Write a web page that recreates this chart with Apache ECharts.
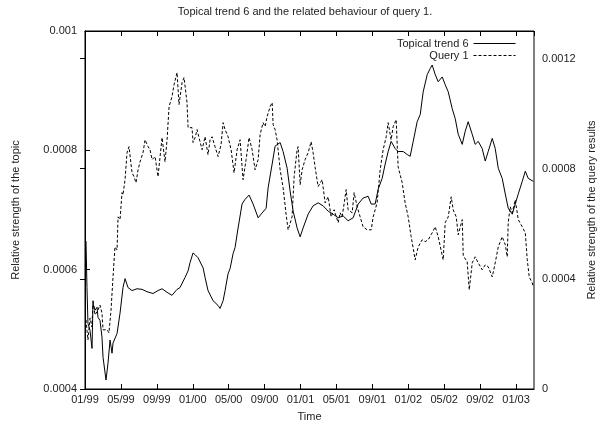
<!DOCTYPE html>
<html>
<head>
<meta charset="utf-8">
<script src="https://cdn.jsdelivr.net/npm/echarts@6/dist/echarts.min.js"></script>
<style>
  html, body { margin: 0; padding: 0; background: #fff; }
  #chart { width: 610px; height: 427px; }
</style>
</head>
<body>
<div id="chart"></div>
<script>
// months counted from 01/99
const tickLabels = ['01/99', '05/99', '09/99', '01/00', '05/00', '09/00', '01/01',
  '05/01', '09/01', '01/02', '05/02', '09/02', '01/03'];

const trendMonths = [0.11, 0.22, 0.33, 0.56, 0.78, 0.89, 1.11, 1.34, 1.45, 1.67, 1.89, 2.01, 2.34, 2.56,
  2.79, 3.01, 3.12, 3.57, 3.90, 4.23, 4.46, 4.79, 5.24, 5.79, 6.35, 6.91, 7.58, 7.80, 8.13, 8.58, 9.14,
  9.69, 10.25, 10.58, 11.14, 11.48, 11.70, 12.03, 12.26, 12.59, 13.15, 13.37, 13.70, 14.26, 14.82, 15.04,
  15.15, 15.38, 15.60, 15.93, 16.16, 16.49, 16.71, 17.05, 17.49, 17.83, 18.27, 18.72, 19.28, 19.72, 20.17,
  20.39, 20.84, 21.17, 21.39, 21.73, 22.06, 22.51, 22.84, 23.18, 23.62, 23.96, 24.29, 24.85, 25.40, 25.96,
  26.52, 27.08, 27.63, 28.19, 28.75, 29.30, 29.86, 30.42, 30.97, 31.53, 31.87, 32.31, 32.65, 33.09, 33.43,
  33.76, 34.09, 34.54, 34.87, 35.43, 35.88, 36.21, 36.55, 36.99, 37.33, 37.66, 38.11, 38.44, 38.66, 39.00,
  39.33, 39.78, 40.11, 40.45, 40.89, 41.23, 41.56, 42.01, 42.34, 42.67, 43.12, 43.45, 43.79, 44.23, 44.57,
  44.90, 45.35, 45.68, 46.02, 46.46, 46.80, 47.13, 47.58, 47.91, 48.25, 48.69, 49.03, 49.36, 49.92];
const trendValues = [6.48e-4, 5.70e-4, 5.10e-4, 4.98e-4, 4.68e-4, 5.43e-4, 5.32e-4, 5.37e-4, 5.20e-4,
  5.15e-4, 4.87e-4, 4.53e-4, 4.15e-4, 4.43e-4, 4.82e-4, 4.60e-4, 4.77e-4, 4.93e-4, 5.27e-4, 5.70e-4,
  5.85e-4, 5.70e-4, 5.65e-4, 5.68e-4, 5.67e-4, 5.63e-4, 5.60e-4, 5.57e-4, 5.65e-4, 5.68e-4, 5.62e-4,
  5.57e-4, 5.67e-4, 5.70e-4, 5.87e-4, 5.98e-4, 6.12e-4, 6.28e-4, 6.25e-4, 6.20e-4, 6.03e-4, 5.87e-4,
  5.65e-4, 5.48e-4, 5.40e-4, 5.35e-4, 5.33e-4, 5.48e-4, 5.65e-4, 5.93e-4, 6.02e-4, 6.27e-4, 6.37e-4,
  6.70e-4, 7.10e-4, 7.18e-4, 7.25e-4, 7.10e-4, 6.87e-4, 6.95e-4, 7.03e-4, 7.37e-4, 7.77e-4, 8.07e-4,
  8.10e-4, 8.13e-4, 7.98e-4, 7.70e-4, 7.32e-4, 6.98e-4, 6.70e-4, 6.55e-4, 6.70e-4, 6.93e-4, 7.07e-4,
  7.12e-4, 7.07e-4, 6.98e-4, 6.93e-4, 6.87e-4, 6.90e-4, 6.82e-4, 6.87e-4, 7.10e-4, 7.20e-4, 7.23e-4,
  7.10e-4, 7.10e-4, 7.35e-4, 7.53e-4, 7.77e-4, 7.98e-4, 8.15e-4, 8.03e-4, 7.98e-4, 7.98e-4, 7.93e-4,
  7.90e-4, 8.15e-4, 8.48e-4, 8.60e-4, 8.98e-4, 9.27e-4, 9.37e-4, 9.43e-4, 9.27e-4, 9.15e-4, 9.23e-4,
  9.10e-4, 8.98e-4, 8.70e-4, 8.53e-4, 8.27e-4, 8.10e-4, 8.32e-4, 8.48e-4, 8.27e-4, 8.10e-4, 8.15e-4,
  8.03e-4, 7.82e-4, 7.98e-4, 8.20e-4, 8.03e-4, 7.70e-4, 7.53e-4, 7.27e-4, 7.03e-4, 6.93e-4, 7.10e-4,
  7.27e-4, 7.48e-4, 7.65e-4, 7.53e-4, 7.48e-4];

const queryMonths = [0.11, 0.33, 0.56, 0.78, 0.89, 1.11, 1.45, 1.67, 1.89, 2.01, 2.45, 2.67, 2.90, 3.12,
  3.34, 3.57, 3.68, 3.90, 4.12, 4.23, 4.46, 4.68, 4.90, 5.24, 5.46, 5.68, 5.91, 6.13, 6.46, 6.69, 6.91,
  7.02, 7.24, 7.47, 7.80, 8.13, 8.58, 8.91, 9.14, 9.36, 9.69, 9.92, 10.25, 10.47, 10.58, 10.81, 11.03,
  11.14, 11.36, 11.48, 11.92, 12.03, 12.26, 12.48, 12.81, 13.04, 13.37, 13.70, 13.93, 14.15, 14.48, 14.82,
  15.15, 15.38, 15.60, 15.93, 16.27, 16.60, 16.94, 17.27, 17.60, 17.94, 18.27, 18.61, 18.94, 19.28, 19.50,
  19.83, 20.06, 20.28, 20.61, 20.84, 20.95, 21.17, 21.39, 21.73, 22.06, 22.40, 22.62, 22.84, 23.06, 23.29,
  23.62, 23.73, 23.96, 24.18, 24.51, 24.85, 25.18, 25.40, 25.63, 25.96, 26.18, 26.41, 26.74, 27.08, 27.41,
  27.74, 28.19, 28.41, 28.64, 29.08, 29.30, 29.75, 29.97, 30.31, 30.64, 30.97, 31.42, 31.87, 32.09, 32.53,
  32.87, 33.20, 33.54, 33.76, 34.09, 34.32, 34.65, 34.87, 35.32, 35.65, 35.99, 36.32, 36.77, 37.10, 37.55,
  37.88, 38.22, 38.66, 39.00, 39.33, 39.89, 40.11, 40.45, 40.78, 41.00, 41.34, 41.56, 42.01, 42.12, 42.56,
  42.79, 43.12, 43.45, 43.79, 44.23, 44.57, 44.90, 45.35, 45.68, 46.02, 46.46, 46.80, 47.02, 47.13, 47.35,
  47.58, 47.91, 48.25, 48.69, 49.03, 49.25, 49.47, 49.81, 49.92];
const queryValues = [2.51e-4, 1.78e-4, 2.58e-4, 2.25e-4, 3.24e-4, 2.69e-4, 2.87e-4, 3.05e-4, 2.76e-4,
  2.15e-4, 2.15e-4, 2.04e-4, 2.87e-4, 4.07e-4, 5.16e-4, 5.05e-4, 6.25e-4, 6.15e-4, 7.13e-4, 7.05e-4,
  7.60e-4, 8.58e-4, 8.80e-4, 7.85e-4, 7.71e-4, 7.49e-4, 7.96e-4, 8.25e-4, 8.58e-4, 9.05e-4, 9.05e-4,
  8.80e-4, 8.69e-4, 8.33e-4, 8.44e-4, 7.71e-4, 9.13e-4, 8.25e-4, 9.05e-4, 10.25e-4, 10.62e-4, 11.05e-4,
  11.49e-4, 10.33e-4, 10.40e-4, 11.13e-4, 11.31e-4, 11.24e-4, 10.40e-4, 9.49e-4, 9.49e-4, 8.95e-4,
  9.13e-4, 9.42e-4, 8.98e-4, 8.69e-4, 9.16e-4, 8.51e-4, 9.05e-4, 9.16e-4, 8.80e-4, 8.44e-4, 8.87e-4,
  9.67e-4, 9.42e-4, 9.16e-4, 8.69e-4, 7.85e-4, 8.69e-4, 9.05e-4, 7.60e-4, 8.33e-4, 9.13e-4, 8.69e-4,
  7.96e-4, 8.33e-4, 9.24e-4, 9.67e-4, 9.53e-4, 9.89e-4, 10.25e-4, 10.40e-4, 9.60e-4, 9.42e-4, 9.05e-4,
  7.96e-4, 7.31e-4, 6.33e-4, 5.78e-4, 5.85e-4, 6.25e-4, 7.71e-4, 8.69e-4, 8.80e-4, 7.42e-4, 7.96e-4,
  8.33e-4, 8.58e-4, 8.98e-4, 8.58e-4, 8.04e-4, 7.35e-4, 7.42e-4, 7.60e-4, 6.76e-4, 6.98e-4, 6.25e-4,
  6.51e-4, 6.04e-4, 6.40e-4, 6.25e-4, 7.24e-4, 6.51e-4, 6.40e-4, 7.13e-4, 6.62e-4, 6.25e-4, 5.89e-4,
  5.78e-4, 5.78e-4, 6.25e-4, 6.76e-4, 7.96e-4, 8.69e-4, 9.16e-4, 9.67e-4, 9.05e-4, 9.53e-4, 9.78e-4,
  8.07e-4, 7.49e-4, 6.76e-4, 6.25e-4, 5.53e-4, 4.69e-4, 5.16e-4, 5.42e-4, 5.35e-4, 5.42e-4, 5.67e-4,
  5.89e-4, 5.53e-4, 4.69e-4, 6.04e-4, 6.25e-4, 6.98e-4, 6.51e-4, 6.25e-4, 5.60e-4, 6.15e-4, 4.84e-4,
  4.62e-4, 3.60e-4, 4.58e-4, 4.80e-4, 4.58e-4, 4.33e-4, 4.51e-4, 4.44e-4, 4.07e-4, 4.58e-4, 5.16e-4,
  5.53e-4, 5.24e-4, 4.80e-4, 6.04e-4, 6.62e-4, 6.40e-4, 6.87e-4, 6.15e-4, 5.89e-4, 5.67e-4, 4.69e-4,
  4.07e-4, 3.85e-4, 3.71e-4];

const trendData = trendMonths.map((m, i) => [m, trendValues[i]]);
const queryData = queryMonths.map((m, i) => [m, queryValues[i]]);

const font = '"Liberation Sans", Arial, sans-serif';
const textColor = '#222';

const myChart = echarts.init(document.getElementById('chart'), null, {renderer: 'canvas'});

const option = {
    animation: false,
    backgroundColor: '#fff',
    color: ['#000', '#000'],
    textStyle: {fontFamily: font, color: textColor},
    title: {
        text: 'Topical trend 6 and the related behaviour of query 1.',
        left: 'center',
        top: 1,
        textStyle: {fontSize: 11, fontWeight: 'normal', color: textColor, fontFamily: font}
    },
    legend: {
        orient: 'vertical',
        right: 89,
        top: 33,
        align: 'right',
        itemWidth: 42,
        itemHeight: 10,
        itemGap: 1,
        itemStyle: {opacity: 0},
        lineStyle: {width: 1},
        textStyle: {fontSize: 11, color: textColor, fontFamily: font},
        data: ['Topical trend 6', 'Query 1']
    },
    grid: {
        left: 85,
        right: 76,
        top: 31,
        bottom: 38,
        show: true,
        borderColor: '#000',
        borderWidth: 1
    },
    xAxis: [
        {
            type: 'value',
            min: 0,
            max: 50,
            interval: 4,
            name: 'Time',
            nameLocation: 'middle',
            nameGap: 22,
            nameTextStyle: {fontSize: 11, color: textColor},
            axisLine: {lineStyle: {color: '#000'}},
            axisTick: {inside: true, length: 5, lineStyle: {color: '#000'}},
            splitLine: {show: false},
            axisLabel: {
                fontSize: 11,
                color: textColor,
                margin: 5,
                showMaxLabel: false,
                formatter: v => tickLabels[v / 4] || ''
            }
        },
        {
            type: 'value',
            position: 'top',
            min: 0,
            max: 50,
            interval: 4,
            axisLine: {lineStyle: {color: '#000'}},
            axisTick: {inside: true, length: 5, lineStyle: {color: '#000'}},
            axisLabel: {show: false},
            splitLine: {show: false}
        }
    ],
    yAxis: [
        {
            type: 'value',
            min: 0.0004,
            max: 0.001,
            interval: 0.0002,
            name: 'Relative strength of the topic',
            nameLocation: 'middle',
            nameRotate: 90,
            nameGap: 64,
            nameTextStyle: {fontSize: 11, color: textColor},
            axisLine: {show: true, lineStyle: {color: '#000'}},
            axisTick: {inside: true, length: 5, lineStyle: {color: '#000'}},
            splitLine: {show: false},
            axisLabel: {fontSize: 11, color: textColor, margin: 8, formatter: v => String(+v.toFixed(6))}
        },
        {
            type: 'value',
            position: 'right',
            min: 0,
            max: 0.0013,
            interval: 0.0004,
            name: 'Relative strength of the query results',
            nameLocation: 'middle',
            nameRotate: 90,
            nameGap: 52,
            nameTextStyle: {fontSize: 11, color: textColor},
            axisLine: {show: true, lineStyle: {color: '#000'}},
            axisTick: {inside: true, length: 5, lineStyle: {color: '#000'}},
            splitLine: {show: false},
            axisLabel: {
                fontSize: 11,
                color: textColor,
                margin: 8,
                showMaxLabel: false,
                formatter: v => String(+v.toFixed(6))
            }
        }
    ],
    series: [
        {
            name: 'Topical trend 6',
            type: 'line',
            xAxisIndex: 0,
            yAxisIndex: 0,
            symbol: 'none',
            data: trendData,
            lineStyle: {color: '#000', width: 1}
        },
        {
            name: 'Query 1',
            type: 'line',
            xAxisIndex: 0,
            yAxisIndex: 1,
            symbol: 'none',
            data: queryData,
            lineStyle: {color: '#000', width: 1, type: [3, 2]}
        }
    ]
};

myChart.setOption(option);
</script>
</body>
</html>
